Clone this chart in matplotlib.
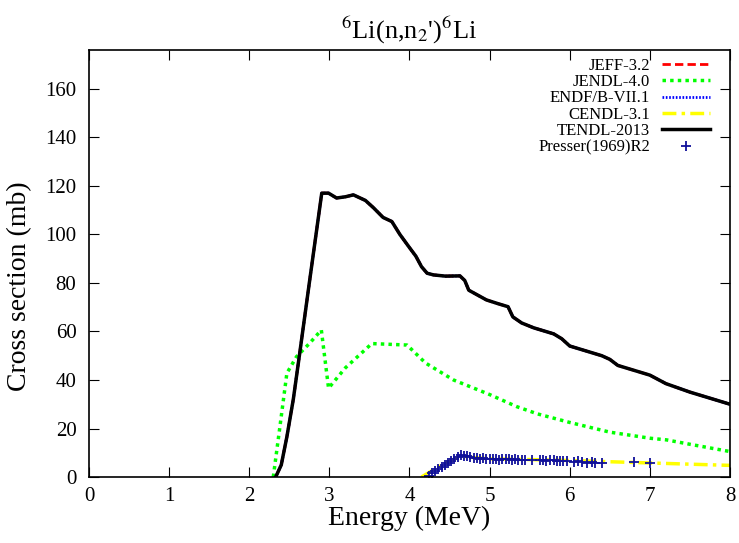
import matplotlib
matplotlib.use("Agg")
import matplotlib.pyplot as plt

plt.rcParams['font.family'] = ['Liberation Serif', 'DejaVu Serif']
plt.rcParams['mathtext.fontset'] = 'stix'

# TENDL-2013 (JEFF-3.2 and ENDF/B-VII.1 lie underneath)
tendl_x = [2.33, 2.40, 2.47, 2.55, 2.63, 2.75, 2.905, 2.99, 3.09, 3.20, 3.30, 3.45, 3.55, 3.67,
           3.78, 3.88, 3.99, 4.08, 4.15, 4.22, 4.30, 4.45, 4.63, 4.69, 4.74, 4.85, 4.96, 5.10,
           5.23, 5.29, 5.40, 5.55, 5.80, 5.90, 6.00, 6.20, 6.40, 6.50, 6.60, 6.80, 7.00, 7.20,
           7.50, 8.00]
tendl_y = [0.0, 5.0, 16.6, 32.0, 51.0, 80.0, 117.0, 117.0, 115.0, 115.5, 116.3, 114.0, 111.0, 107.0,
           105.3, 100.0, 95.0, 91.0, 86.7, 84.0, 83.3, 82.8, 82.9, 81.0, 77.0, 75.0, 73.0, 71.5,
           70.2, 66.0, 63.5, 61.5, 59.0, 57.0, 54.0, 52.0, 50.0, 48.5, 46.0, 44.0, 42.0, 38.5,
           35.0, 30.0]

# JENDL-4.0
jendl_x = [2.30, 2.38, 2.47, 2.59, 2.75, 2.90, 2.99, 3.20, 3.53, 3.97, 4.20, 4.55, 4.70, 5.00,
           5.34, 5.60, 6.00, 6.50, 7.00, 7.21, 7.50, 8.00]
jendl_y = [0.0, 20.0, 42.8, 49.6, 55.0, 60.6, 36.6, 45.0, 55.0, 54.4, 47.0, 40.0, 38.0, 34.0,
           29.0, 26.0, 22.5, 18.5, 16.0, 15.3, 13.5, 10.5]

# CENDL-3.1
cendl_x = [4.15, 4.30, 4.50, 4.65, 4.80, 5.00, 5.50, 6.00, 6.50, 7.00, 7.50, 8.00]
cendl_y = [0.0, 3.0, 6.5, 8.7, 8.0, 7.5, 7.2, 6.8, 6.3, 5.8, 5.3, 4.8]

# Presser(1969)R2
exp_x = [4.24, 4.28, 4.32, 4.36, 4.40, 4.44, 4.48, 4.52, 4.56, 4.60, 4.64, 4.68, 4.72, 4.76,
         4.80, 4.84, 4.88, 4.92, 4.96, 5.00, 5.04, 5.08, 5.12, 5.16, 5.20, 5.24, 5.28, 5.32,
         5.36, 5.40, 5.44, 5.53, 5.63, 5.67, 5.71, 5.75, 5.80, 5.84, 5.88, 5.92, 5.96, 6.05,
         6.10, 6.15, 6.21, 6.28, 6.32, 6.40, 6.80, 7.00]
exp_y = [0.4, 1.5, 2.5, 3.5, 4.2, 5.0, 5.8, 6.5, 7.5, 8.3, 9.0, 8.8, 8.5, 8.3,
         8.0, 7.8, 7.6, 7.8, 7.5, 7.3, 7.5, 7.4, 7.2, 7.5, 7.3, 7.4, 7.1, 7.3,
         7.0, 7.2, 7.0, 7.1, 6.9, 7.1, 6.8, 7.0, 6.9, 6.7, 6.8, 6.5, 6.6, 6.3,
         6.4, 6.1, 5.9, 6.0, 5.8, 5.6, 6.3, 5.7]

fig = plt.figure(figsize=(7.39, 5.43), dpi=100)
ax = fig.add_axes([0.1204, 0.1215, 0.8674, 0.7864])

ax.plot(tendl_x, tendl_y, color='red', linestyle=(0, (3, 1.5)), linewidth=2, label='JEFF-3.2')
ax.plot(jendl_x, jendl_y, color='#00ff00', linestyle=(0, (1, 1.2)), linewidth=2.5, label='JENDL-4.0')
ax.plot(tendl_x, tendl_y, color='blue', linestyle=(0, (0.6, 0.6)), linewidth=2, label='ENDF/B-VII.1')
ax.plot(cendl_x, cendl_y, color='#ffff00', linestyle=(0, (4, 1.5, 1, 1.5)), linewidth=2.5, label='CENDL-3.1')
ax.plot(tendl_x, tendl_y, color='black', linestyle='-', linewidth=2.5, label='TENDL-2013')
ax.plot(exp_x, exp_y, color='#10109a', linestyle='none', marker='+', markersize=7,
        markeredgewidth=1.3, label='Presser(1969)R2')

ax.set_xlim(0, 8)
ax.set_ylim(0, 176)
ax.set_xticks(range(0, 9))
ax.set_yticks(range(0, 161, 20))
ax.tick_params(direction='in', top=True, right=True, length=7, labelsize=15)
ax.tick_params(axis='x', pad=7)
ax.tick_params(axis='y', pad=9)
for s in ax.spines.values():
    s.set_linewidth(1.2)

ax.set_xlabel('Energy (MeV)', fontsize=20, labelpad=0)
ax.set_ylabel('Cross section (mb)', fontsize=20)
ax.yaxis.set_label_coords(-0.089, 0.447)
ax.set_title(r"$^{6}$Li(n,n$_{2}$')$^{6}$Li", fontsize=19, pad=8)

ax.legend(loc='upper right', bbox_to_anchor=(0.969, 0.982), frameon=False, markerfirst=False,
          fontsize=12, handlelength=2.9, labelspacing=0.02, borderaxespad=0, borderpad=0,
          handletextpad=0.7)

fig.savefig('out.png', dpi=100)
